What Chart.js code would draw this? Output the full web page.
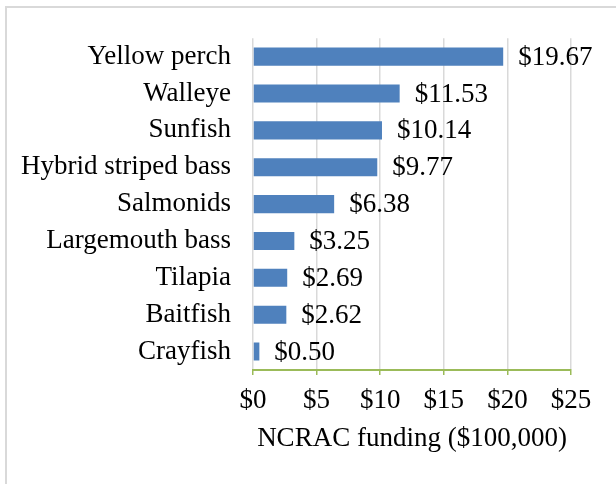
<!DOCTYPE html>
<html>
<head>
<meta charset="utf-8">
<script src="https://cdn.jsdelivr.net/npm/chart.js@4"></script>
<style>
html,body{margin:0;padding:0;background:#fff;}
#wrap{position:relative;width:616px;height:484px;overflow:hidden;}
#frame{position:absolute;left:5px;top:6px;width:640px;height:520px;border-left:2px solid #d9d9d9;border-top:2px solid #d9d9d9;box-sizing:border-box;}
canvas{position:absolute;left:0;top:0;}
</style>
</head>
<body>
<div id="wrap">
<div id="frame"></div>
<canvas id="c" width="616" height="484"></canvas>
</div>
<script>
const categories = ["Yellow perch","Walleye","Sunfish","Hybrid striped bass","Salmonids","Largemouth bass","Tilapia","Baitfish","Crayfish"];
const funding = [19.67,11.53,10.14,9.77,6.38,3.25,2.69,2.62,0.50];
const xTicks = [0,5,10,15,20,25];
const axisTitle = "NCRAC funding ($100,000)";

const FONT = "'Liberation Serif','Times New Roman',serif";
const FS = 27;

const valueLabels = {
  id:'valueLabels',
  afterDatasetsDraw(chart){
    const ctx = chart.ctx;
    const meta = chart.getDatasetMeta(0);
    ctx.save();
    ctx.font = FS + "px " + FONT;
    ctx.fillStyle = "#000";
    ctx.textAlign = "left";
    ctx.textBaseline = "middle";
    meta.data.forEach((bar,i)=>{
      ctx.fillText("$" + funding[i].toFixed(2), bar.x + 15, bar.y + 1);
    });
    ctx.restore();
  }
};

new Chart(document.getElementById('c'), {
  type:'bar',
  data:{
    labels:categories,
    datasets:[{
      data:funding,
      backgroundColor:'#4f81bd',
      borderWidth:0,
      categoryPercentage:1,
      barPercentage:0.49
    }]
  },
  options:{
    indexAxis:'y',
    responsive:false,
    animation:false,
    devicePixelRatio:1,
    layout:{padding:{top:36,right:45,left:0,bottom:29}},
    plugins:{legend:{display:false},tooltip:{enabled:false}},
    scales:{
      x:{
        min:0,max:25,
        afterBuildTicks(s){ s.ticks = xTicks.map(v=>({value:v})); },
        afterFit(s){ s.height = 455 - 370; },
        grid:{color:'#d9d9d9',lineWidth:1.5,drawTicks:true,tickLength:5,tickColor:'#9bbb59'},
        border:{display:true,color:'#9bbb59',width:2},
        ticks:{color:'#000',font:{family:FONT,size:FS},padding:10,callback:(v)=>'$'+v},
        title:{display:true,text:axisTitle,color:'#000',font:{family:FONT,size:FS},padding:{top:0,bottom:0}}
      },
      y:{
        afterFit(s){ s.width = 253; },
        grid:{display:false,drawTicks:false},
        border:{display:false},
        ticks:{color:'#000',font:{family:FONT,size:FS},padding:22}
      }
    }
  },
  plugins:[valueLabels]
});
</script>
</body>
</html>
